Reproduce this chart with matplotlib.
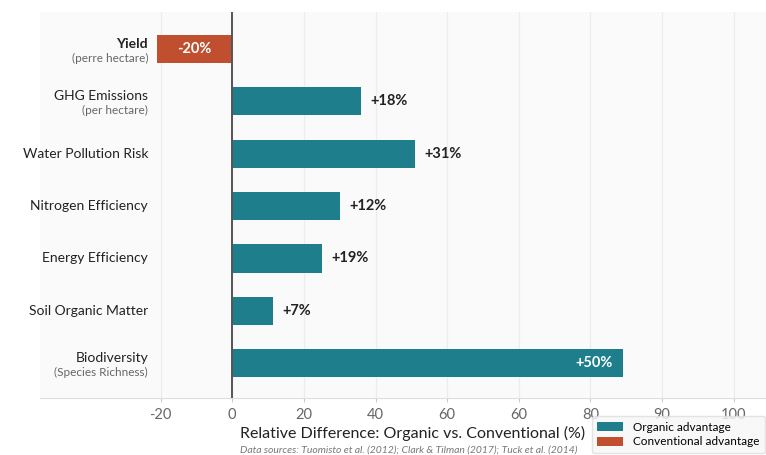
import matplotlib.pyplot as plt
from matplotlib.patches import Patch

# categories, top to bottom
categories = ["Yield", "GHG Emissions", "Water Pollution Risk", "Nitrogen Efficiency",
              "Energy Efficiency", "Soil Organic Matter", "Biodiversity"]
sublabels = ["(perre hectare)", "(per hectare)", "", "", "", "", "(Species Richness)"]
# bar lengths as drawn in the picture (axis units)
bar_values = [-21, 36, 51, 30, 25, 11.5, 109]
# value labels as printed on the picture
value_labels = ["-20%", "+18%", "+31%", "+12%", "+19%", "+7%", "+50%"]

tick_positions = [-20, 0, 20, 40, 60, 80, 100, 120, 140]
tick_labels = ["-20", "0", "20", "40", "60", "60", "80", "90", "100"]

TEAL = "#1e7e8b"
RED = "#c04f30"

plt.rcParams["font.family"] = ["Lato", "DejaVu Sans"]

fig = plt.figure(figsize=(7.66, 4.55), dpi=100)
fig.patch.set_facecolor("white")
ax = fig.add_axes([0.052, 0.125, 0.948, 0.849])
ax.set_facecolor("#fafafa")

y = list(range(len(categories)))
colors = [RED if v < 0 else TEAL for v in bar_values]
ax.barh(y, bar_values, height=0.54, color=colors, zorder=3)

ax.set_xlim(-53.7, 149)
ax.set_ylim(6.67, -0.71)

ax.set_xticks(tick_positions)
ax.set_xticklabels(tick_labels, fontsize=10.5, color="#666666")
ax.tick_params(axis="x", length=3, color="#cccccc", pad=4)
ax.set_yticks([])
ax.grid(axis="x", color="#ececec", linewidth=0.9, zorder=0)

for side in ["top", "right", "left"]:
    ax.spines[side].set_visible(False)
ax.spines["bottom"].set_color("#dddddd")
ax.axvline(0, color="#555555", linewidth=1.4, zorder=4)

# category labels
for i, (name, sub) in enumerate(zip(categories, sublabels)):
    weight = "bold" if name == "Yield" else "normal"
    if sub:
        ax.text(-23.5, i - 0.1, name, ha="right", va="center", fontsize=10,
                color="#222222", fontweight=weight)
        ax.text(-23.5, i + 0.18, sub, ha="right", va="center", fontsize=8.5,
                color="#666666")
    else:
        ax.text(-23.5, i, name, ha="right", va="center", fontsize=10, color="#222222")

# value labels
for i, (v, lab) in enumerate(zip(bar_values, value_labels)):
    if v < 0:
        ax.text(v / 2, i, lab, ha="center", va="center", fontsize=10.5,
                color="white", fontweight="bold")
    elif v > 90:
        ax.text(v - 2.8, i, lab, ha="right", va="center", fontsize=10.5,
                color="white", fontweight="bold")
    else:
        ax.text(v + 2.6, i, lab, ha="left", va="center", fontsize=10.5,
                color="#222222", fontweight="bold")

fig.text(0.538, 0.048, "Relative Difference: Organic vs. Conventional (%)",
         ha="center", va="center", fontsize=11.5, color="#222222")
fig.text(0.533, 0.011, "Data sources: Tuomisto et al. (2012); Clark & Tilman (2017); Tuck et al. (2014)",
         ha="center", va="center", fontsize=7.5, color="#777777", style="italic")

handles = [Patch(facecolor=TEAL, label="Organic advantage"),
           Patch(facecolor=RED, label="Conventional advantage")]
leg = fig.legend(handles=handles, loc="lower right", bbox_to_anchor=(0.999, 0.004),
                 fontsize=8.5, frameon=True, handlelength=2.2, handleheight=0.8,
                 borderpad=0.5, labelspacing=0.3, borderaxespad=0)
leg.get_frame().set_edgecolor("#dddddd")
leg.get_frame().set_facecolor("#f7f7f7")

fig.savefig("out.png", dpi=100)
